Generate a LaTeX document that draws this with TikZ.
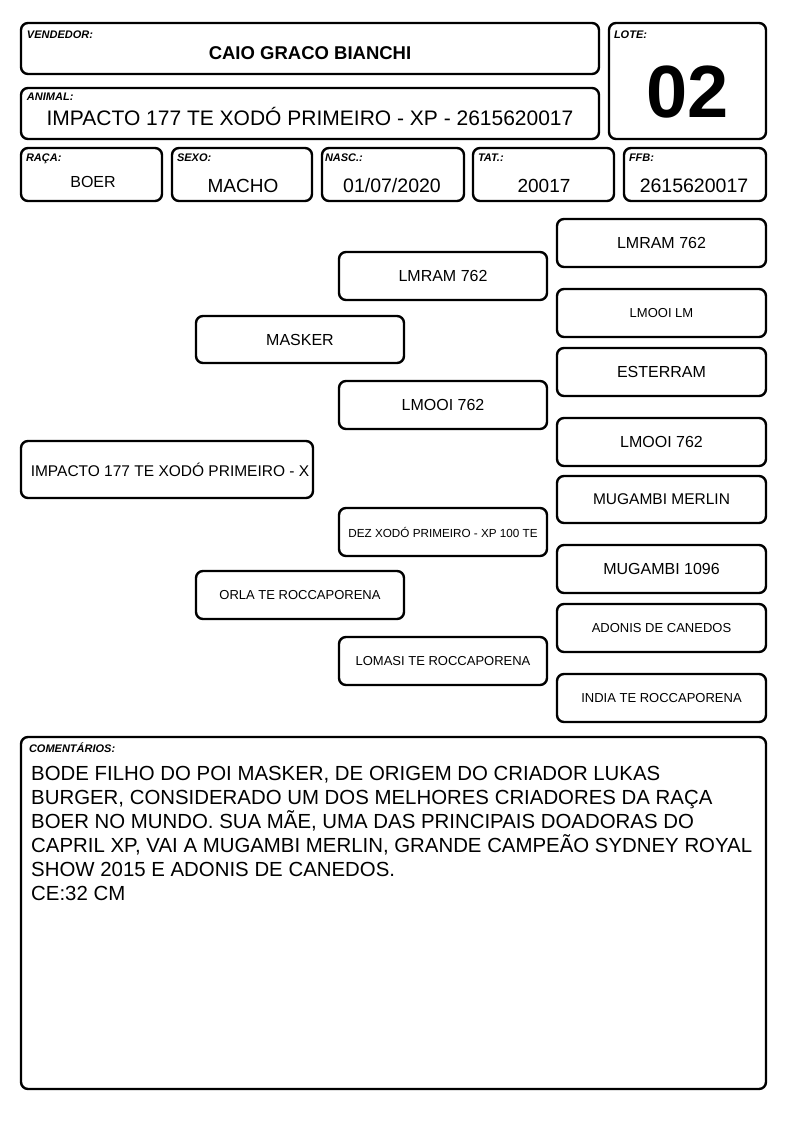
\documentclass[tikz,border=0pt]{standalone}
\usepackage{fontspec}
\setmainfont{Liberation Sans}
\begin{document}
\begin{tikzpicture}[x=1pt,y=-1pt,
  box/.style={draw, rounded corners=7pt, line width=2.4pt, inner sep=0pt, align=center},
  lbl/.style={anchor=north west, inner sep=0pt, font=\fontsize{11}{13}\selectfont\bfseries\itshape},
  pedbox/.style={box, minimum width=208pt, minimum height=48pt},
  f16/.style={font=\fontsize{16}{19}\selectfont},
  f155/.style={font=\fontsize{15.5}{19}\selectfont},
  f14/.style={font=\fontsize{14}{17}\selectfont},
  f13/.style={font=\fontsize{13}{16}\selectfont},
  f12/.style={font=\fontsize{11.7}{14}\selectfont}]
\useasboundingbox[fill=white] (0,0) rectangle (794,1123);
% header
\node[box, minimum width=578pt, minimum height=51pt] (vend) at (310,48.5) {};
\node[lbl] (vendl) at ([xshift=7pt,yshift=-9pt]vend.north west) {VENDEDOR:};
\node[inner sep=0pt, font=\fontsize{18.5}{21}\selectfont\bfseries] (vendv) at (310,53) {CAIO GRACO BIANCHI};
\node[box, minimum width=157pt, minimum height=116pt] (lote) at (687.5,81) {};
\node[lbl] (lotel) at ([xshift=6pt,yshift=-9pt]lote.north west) {LOTE:};
\node[inner sep=0pt, font=\fontsize{74}{80}\selectfont\bfseries] (lotev) at (687.5,92) {02};
\node[box, minimum width=578pt, minimum height=51pt] (anim) at (310,113.5) {};
\node[lbl] (animl) at ([xshift=7pt,yshift=-6pt]anim.north west) {ANIMAL:};
\node[inner sep=0pt, font=\fontsize{21}{24}\selectfont] (animv) at (310,116) {IMPACTO 177 TE XODÓ PRIMEIRO - XP - 2615620017};
% row 3
\node[box, minimum width=141pt, minimum height=53pt] (raca) at (91.5,174.5) {};
\node[lbl] (racal) at ([xshift=6pt,yshift=-7pt]raca.north west) {RAÇA:};
\node[inner sep=0pt, font=\fontsize{16}{19}\selectfont] (racav) at (93,182) {BOER};
\node[box, minimum width=140pt, minimum height=53pt] (sexo) at (242,174.5) {};
\node[lbl] (sexol) at ([xshift=6pt,yshift=-7pt]sexo.north west) {SEXO:};
\node[inner sep=0pt, font=\fontsize{19}{21}\selectfont] (sexov) at (243,186) {MACHO};
\node[box, minimum width=142pt, minimum height=53pt] (nasc) at (393,174.5) {};
\node[lbl] (nascl) at ([xshift=4pt,yshift=-7pt]nasc.north west) {NASC.:};
\node[inner sep=0pt, font=\fontsize{19.5}{21}\selectfont] (nascv) at (392,186) {01/07/2020};
\node[box, minimum width=141pt, minimum height=53pt] (tat) at (543.5,174.5) {};
\node[lbl] (tatl) at ([xshift=6pt,yshift=-7pt]tat.north west) {TAT.:};
\node[inner sep=0pt, font=\fontsize{19}{21}\selectfont] (tatv) at (544,186) {20017};
\node[box, minimum width=142pt, minimum height=53pt] (ffb) at (695,174.5) {};
\node[lbl] (ffbl) at ([xshift=6pt,yshift=-7pt]ffb.north west) {FFB:};
\node[inner sep=0pt, font=\fontsize{19.5}{21}\selectfont] (ffbv) at (694,186) {2615620017};
% pedigree
\node[box, f155, minimum width=292pt, minimum height=57pt] (g1) at (167,469.5) {\hspace*{6pt}IMPACTO 177 TE XODÓ PRIMEIRO - X};
\node[box, f16, minimum width=208pt, minimum height=47pt] (g2a) at (300,339.5) {MASKER};
\node[box, f13, minimum width=208pt, minimum height=48pt] (g2b) at (300,595) {ORLA TE ROCCAPORENA};
\node[pedbox, f16] (g3a) at (443,276) {LMRAM 762};
\node[pedbox, f16] (g3b) at (443,405) {LMOOI 762};
\node[pedbox, f12] (g3c) at (443,532) {DEZ XODÓ PRIMEIRO - XP 100 TE};
\node[pedbox, f13] (g3d) at (443,661) {LOMASI TE ROCCAPORENA};
\node[pedbox, f16, minimum width=209pt] (g4a) at (661.5,243) {LMRAM 762};
\node[pedbox, f13, minimum width=209pt] (g4b) at (661.5,313) {LMOOI LM};
\node[pedbox, f16, minimum width=209pt] (g4c) at (661.5,372) {ESTERRAM};
\node[pedbox, f16, minimum width=209pt] (g4d) at (661.5,442) {LMOOI 762};
\node[pedbox, f155, minimum width=209pt, minimum height=47pt] (g4e) at (661.5,499.5) {MUGAMBI MERLIN};
\node[pedbox, f16, minimum width=209pt] (g4f) at (661.5,569) {MUGAMBI 1096};
\node[pedbox, f13, minimum width=209pt] (g4g) at (661.5,628) {ADONIS DE CANEDOS};
\node[pedbox, f13, minimum width=209pt] (g4h) at (661.5,698) {INDIA TE ROCCAPORENA};
% comments
\node[box, minimum width=745pt, minimum height=352pt] (com) at (393.5,913) {};
\node[lbl] (coml) at ([xshift=9pt,yshift=-7pt]com.north west) {COMENTÁRIOS:};
\node[anchor=north west, inner sep=0pt, align=left, font=\fontsize{20.4}{24}\selectfont] (comv) at (31,766)
 {BODE FILHO DO POI MASKER, DE ORIGEM DO CRIADOR LUKAS\\
  BURGER, CONSIDERADO UM DOS MELHORES CRIADORES DA RAÇA\\
  BOER NO MUNDO. SUA MÃE, UMA DAS PRINCIPAIS DOADORAS DO\\
  CAPRIL XP, VAI A MUGAMBI MERLIN, GRANDE CAMPEÃO SYDNEY ROYAL\\
  SHOW 2015 E ADONIS DE CANEDOS.\\
  CE:32 CM};
\end{tikzpicture}
\end{document}
